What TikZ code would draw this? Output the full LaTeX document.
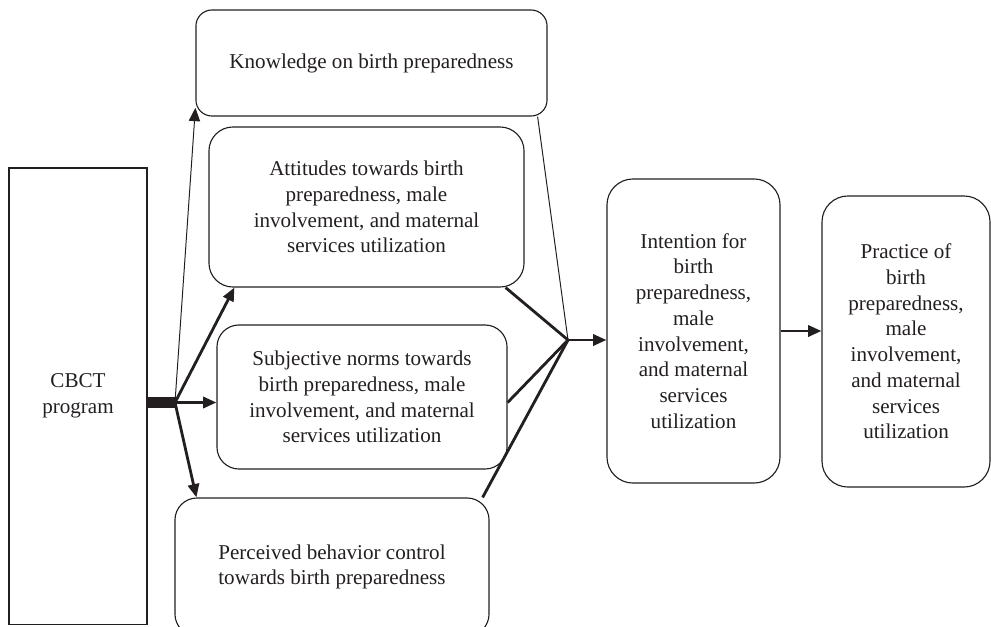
\documentclass[tikz,border=0pt]{standalone}
\usepackage{fontspec}
\setmainfont{Liberation Serif}
\usetikzlibrary{arrows.meta, positioning, calc}
\definecolor{lineGray}{HTML}{231F20}

\begin{document}
\begin{tikzpicture}[
    x=0.025cm, y=-0.025cm,
    box/.style={draw=lineGray, line width=0.8pt, rounded corners=0.6cm, align=center, inner sep=0pt, text=lineGray, font=\fontsize{15}{18.3}\selectfont},
    link/.style={line width=2pt, lineGray},
    thinlink/.style={line width=0.7pt, lineGray},
    tip/.style={-{Triangle[length=9.5pt, width=8pt]}},
]
    \useasboundingbox (0,0) rectangle (991,626);

    \node[box, rounded corners=0pt, minimum width=3.45cm, minimum height=11.4cm] (cbct) at (78,396) {CBCT\\program};
    \node[box, rounded corners=0.4cm, minimum width=8.775cm, minimum height=2.65cm] (know) at (371.5,63) {Knowledge on birth preparedness};
    \node[box, minimum width=7.875cm, minimum height=4cm] (att) at (366.5,207) {Attitudes towards birth\\preparedness, male\\involvement, and maternal\\services utilization};
    \node[box, rounded corners=0.55cm, minimum width=7.25cm, minimum height=3.6cm] (subj) at (362,397) {Subjective norms towards\\birth preparedness, male\\involvement, and maternal\\services utilization};
    \node[box, rounded corners=0.55cm, minimum width=7.85cm, minimum height=3.45cm] (perc) at (332,567) {Perceived behavior control\\towards birth preparedness};
    \node[box, rounded corners=0.65cm, minimum width=4.325cm, minimum height=7.6cm] (int) at (693.5,331) {Intention for\\birth\\preparedness,\\male\\involvement,\\and maternal\\services\\utilization};
    \node[box, rounded corners=0.65cm, minimum width=4.2cm, minimum height=7.275cm] (prac) at (906,341.5) {Practice of\\birth\\preparedness,\\male\\involvement,\\and maternal\\services\\utilization};

    \coordinate (hub) at (175,402.5);
    \coordinate (join) at (568,340);

    \draw[lineGray, line width=0.27cm] (cbct.east |- hub) -- (hub);
    \draw[thinlink, tip] (hub) -- ([yshift=0.22cm]know.south west);
    \draw[link, tip] (hub) -- ([xshift=0.65cm]att.south west);
    \draw[link, tip] (hub) -- (subj.west |- hub);
    \draw[link, tip] (hub) -- ([xshift=0.55cm]perc.north west);

    \draw[thinlink] ([xshift=-0.25cm]know.south east) -- (join);
    \draw[link] ([xshift=-0.475cm]att.south east) -- (join);
    \draw[link] (subj.east |- hub) -- (join);
    \draw[link] ([xshift=-0.175cm]perc.north east) -- (join);
    \draw[link, tip] (join) -- (int.west |- join);
    \draw[link, tip] (int.east) -- (prac.west |- int.east);
\end{tikzpicture}
\end{document}
